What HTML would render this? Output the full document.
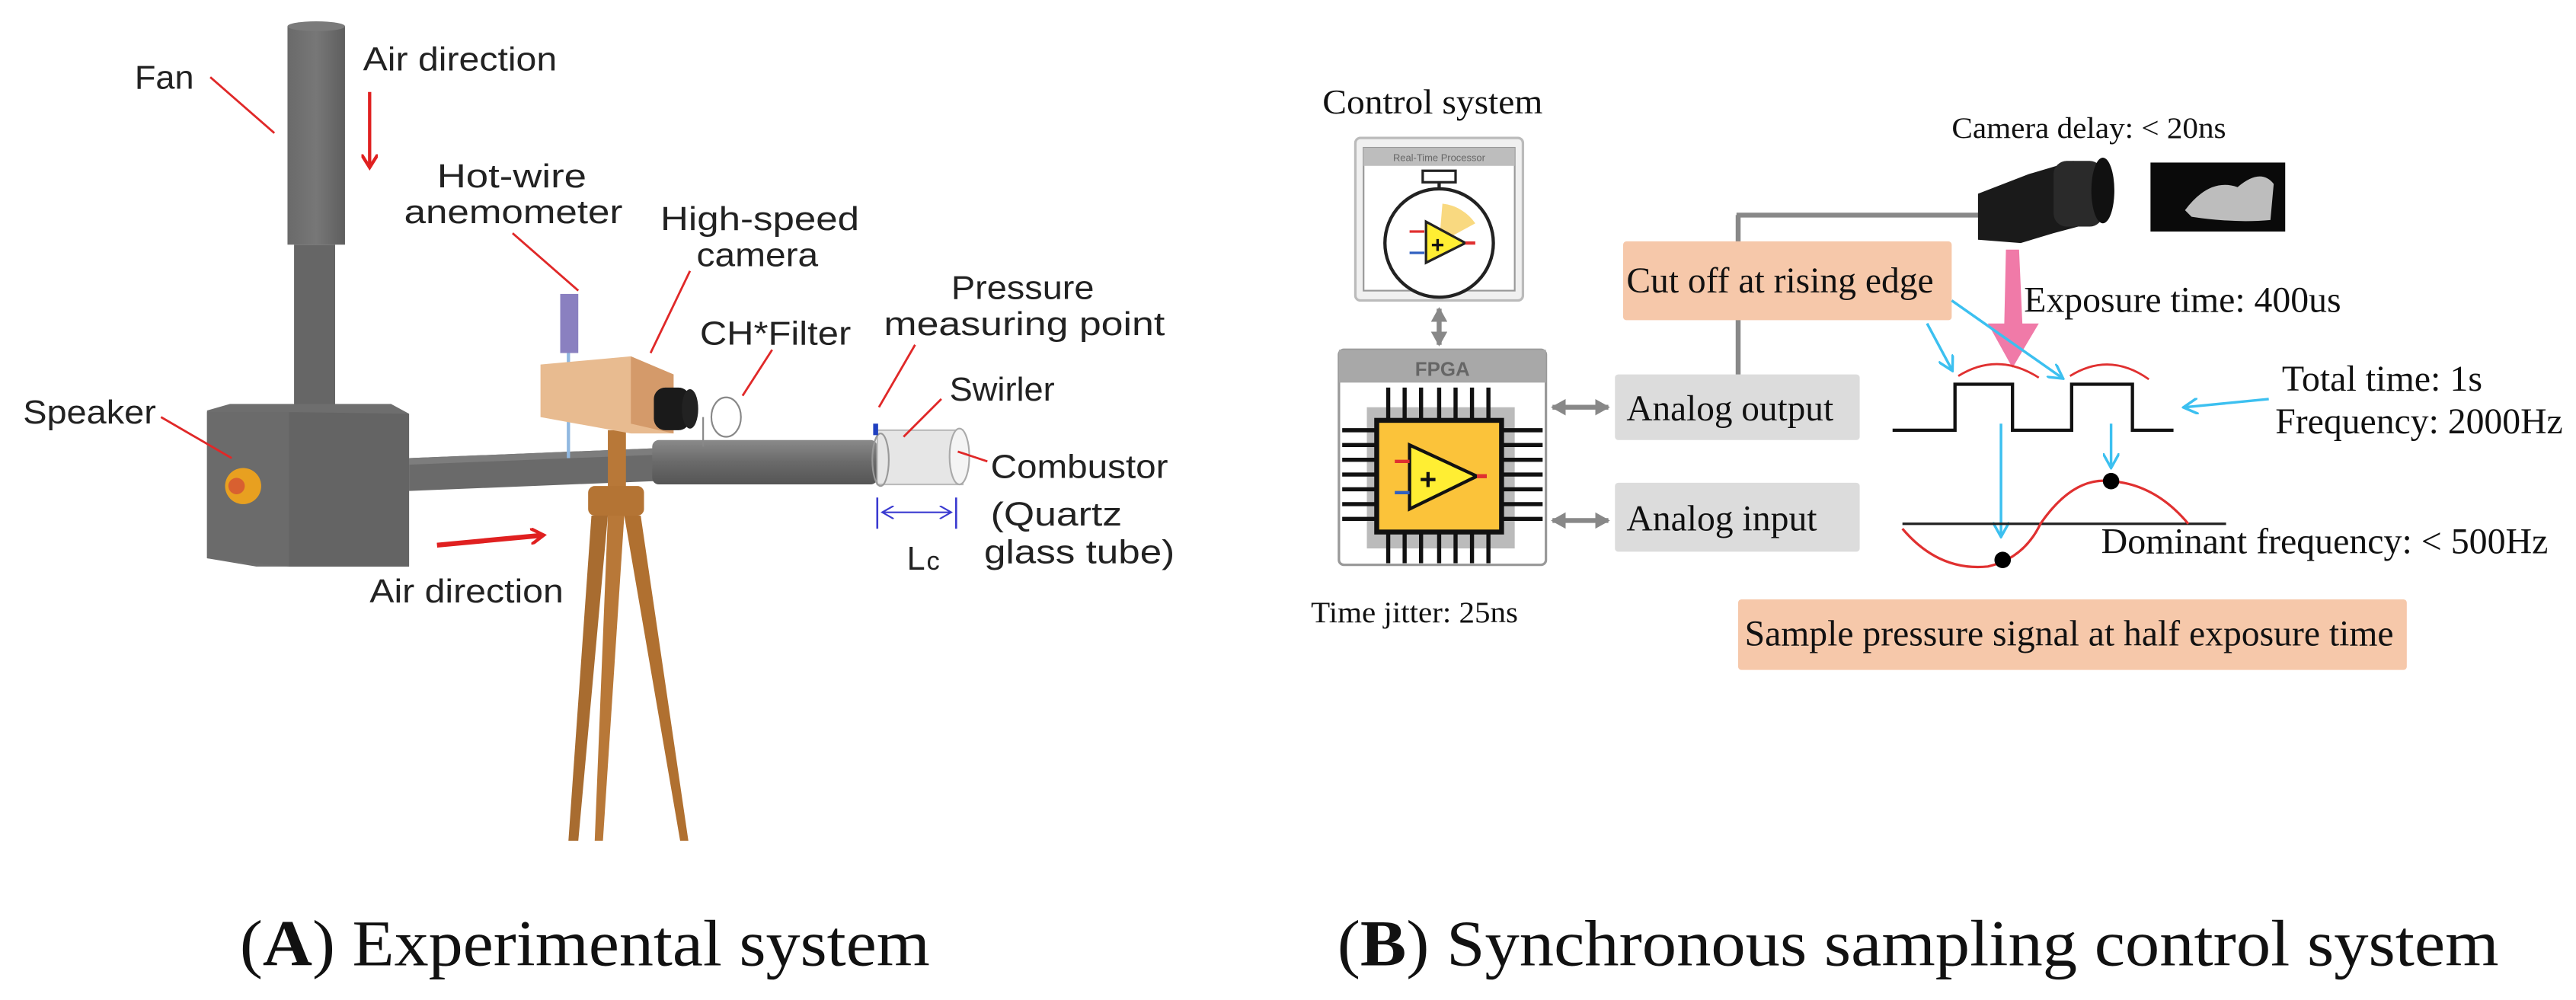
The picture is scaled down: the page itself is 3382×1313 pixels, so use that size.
<!DOCTYPE html>
<html><head><meta charset="utf-8"><style>
html,body{margin:0;padding:0;background:#fff;}
svg{display:block;}
.s{font-family:"Liberation Sans",sans-serif;fill:#222;}
.r{font-family:"Liberation Serif",serif;fill:#111;}
</style></head><body>
<svg width="3382" height="1313" viewBox="0 0 1568 609" preserveAspectRatio="none" xmlns="http://www.w3.org/2000/svg">
<defs>
<marker id="ra" markerWidth="10" markerHeight="10" refX="7" refY="5" orient="auto" markerUnits="userSpaceOnUse"><path d="M0,0 L8,5 L0,10" fill="none" stroke="#e02020" stroke-width="2"/></marker>
<marker id="ba" markerWidth="10" markerHeight="10" refX="8" refY="5" orient="auto" markerUnits="userSpaceOnUse"><path d="M0,0 L9,5 L0,10" fill="none" stroke="#3cc0f0" stroke-width="1.6"/></marker>
<marker id="ga" markerWidth="10" markerHeight="10" refX="8" refY="5" orient="auto-start-reverse" markerUnits="userSpaceOnUse"><path d="M0,0 L9,5 L0,10 z" fill="#888"/></marker>
<marker id="la" markerWidth="8" markerHeight="8" refX="7" refY="4" orient="auto-start-reverse" markerUnits="userSpaceOnUse"><path d="M0,0 L7,4 L0,8" fill="none" stroke="#3a3ad0" stroke-width="1"/></marker>
<linearGradient id="tube" x1="0" y1="0" x2="0" y2="1"><stop offset="0" stop-color="#8a8a8a"/><stop offset="0.5" stop-color="#6a6a6a"/><stop offset="1" stop-color="#555"/></linearGradient>
<linearGradient id="vt" x1="0" y1="0" x2="1" y2="0"><stop offset="0" stop-color="#6a6a6a"/><stop offset="0.5" stop-color="#777"/><stop offset="1" stop-color="#5e5e5e"/></linearGradient>
</defs>

<!-- LEFT PANEL -->
<rect x="175" y="16" width="35" height="133" fill="url(#vt)"/>
<ellipse cx="192.5" cy="16" rx="17.5" ry="3" fill="#7a7a7a"/>
<rect x="179" y="149" width="25" height="100" fill="#666"/>
<!-- box -->
<polygon points="126,250 140,246 238,246 249,252 249,345 156,345 126,340" fill="#6e6e6e"/>
<polygon points="126,251 176,251 176,345 126,340" fill="#6b6b6b"/>
<polygon points="176,251 249,252 249,345 176,345" fill="#646464"/>
<circle cx="148" cy="296" r="11" fill="#e8a020"/>
<circle cx="144" cy="296" r="5" fill="#d86030"/>
<!-- pipes -->
<polygon points="249,279 398,273 398,293 249,299" fill="#6a6a6a"/>
<polygon points="249,279 398,273 398,277 249,283" fill="#7d7d7d"/>
<rect x="397" y="268" width="137" height="27" rx="4" fill="url(#tube)"/>
<rect x="534" y="262" width="52" height="33" fill="#e6e6e6" stroke="#bbb" stroke-width="1"/>
<ellipse cx="584" cy="278" rx="6" ry="17" fill="#f4f4f4" stroke="#aaa"/>
<ellipse cx="536" cy="280" rx="5" ry="16" fill="none" stroke="#999"/>
<path d="M533 258 L533 265" stroke="#2040c0" stroke-width="3"/>
<!-- tripod -->
<rect x="370" y="262" width="11" height="35" fill="#b87838"/>
<rect x="358" y="296" width="34" height="18" rx="4" fill="#b47434"/>
<polygon points="360,314 370,314 352,512 346,512" fill="#a86c30"/>
<polygon points="370,314 380,314 367,512 362,512" fill="#b87838"/>
<polygon points="380,314 390,314 419,512 414,512" fill="#b07030"/>
<!-- anemometer -->
<rect x="341" y="179" width="11" height="36" fill="#8a80c0"/>
<line x1="346" y1="215" x2="346" y2="279" stroke="#90b8e0" stroke-width="2"/>
<!-- camera -->
<polygon points="329,222 384,217 410,228 410,264 384,264 329,254" fill="#e8bb90"/>
<polygon points="384,217 410,228 410,264 384,258" fill="#d49a6a"/>
<rect x="398" y="236" width="22" height="26" rx="7" fill="#1a1a1a"/>
<ellipse cx="420" cy="249" rx="5" ry="12" fill="#222"/>
<!-- filter -->
<ellipse cx="442" cy="254" rx="9" ry="12" fill="#fff" stroke="#888"/>
<line x1="428" y1="254" x2="428" y2="272" stroke="#888"/>
<!-- labels -->
<g class="s" font-size="20">
<text x="82" y="54" textLength="36" lengthAdjust="spacingAndGlyphs">Fan</text>
<text x="221" y="43" textLength="118" lengthAdjust="spacingAndGlyphs">Air direction</text>
<text x="266" y="114" textLength="91" lengthAdjust="spacingAndGlyphs">Hot-wire</text>
<text x="246" y="136" textLength="133" lengthAdjust="spacingAndGlyphs">anemometer</text>
<text x="402" y="140" textLength="121" lengthAdjust="spacingAndGlyphs">High-speed</text>
<text x="424" y="162" textLength="74" lengthAdjust="spacingAndGlyphs">camera</text>
<text x="426" y="210" textLength="92" lengthAdjust="spacingAndGlyphs">CH*Filter</text>
<text x="579" y="182" textLength="87" lengthAdjust="spacingAndGlyphs">Pressure</text>
<text x="538" y="204" textLength="171" lengthAdjust="spacingAndGlyphs">measuring point</text>
<text x="578" y="244" textLength="64" lengthAdjust="spacingAndGlyphs">Swirler</text>
<text x="603" y="291" textLength="108" lengthAdjust="spacingAndGlyphs">Combustor</text>
<text x="603" y="320" textLength="80" lengthAdjust="spacingAndGlyphs">(Quartz</text>
<text x="599" y="343" textLength="116" lengthAdjust="spacingAndGlyphs">glass tube)</text>
<text x="552" y="347">L</text><text x="564" y="347" font-size="16">c</text>
<text x="14" y="258" textLength="81" lengthAdjust="spacingAndGlyphs">Speaker</text>
<text x="225" y="367" textLength="118" lengthAdjust="spacingAndGlyphs">Air direction</text>
</g>
<g stroke="#e02828" stroke-width="1.3" fill="none">
<line x1="128" y1="47" x2="167" y2="81"/>
<line x1="98" y1="254" x2="141" y2="279"/>
<line x1="312" y1="142" x2="352" y2="177"/>
<line x1="420" y1="165" x2="396" y2="215"/>
<line x1="470" y1="213" x2="452" y2="241"/>
<line x1="557" y1="210" x2="535" y2="248"/>
<line x1="573" y1="243" x2="550" y2="266"/>
<line x1="601" y1="281" x2="583" y2="275"/>
</g>
<line x1="225" y1="56" x2="225" y2="101" stroke="#e02020" stroke-width="2" marker-end="url(#ra)"/>
<line x1="266" y1="332" x2="330" y2="326" stroke="#e02020" stroke-width="3" marker-end="url(#ra)"/>
<!-- Lc -->
<line x1="534" y1="303" x2="534" y2="322" stroke="#3a3ad0" stroke-width="1.2"/>
<line x1="582" y1="303" x2="582" y2="322" stroke="#3a3ad0" stroke-width="1.2"/>
<line x1="537" y1="312" x2="579" y2="312" stroke="#3a3ad0" stroke-width="1" marker-start="url(#la)" marker-end="url(#la)"/>
<text class="r" x="146" y="588" font-size="40" textLength="420" lengthAdjust="spacingAndGlyphs"><tspan>(</tspan><tspan font-weight="bold">A</tspan><tspan>) Experimental system</tspan></text>

<!-- RIGHT PANEL -->
<text class="r" x="805" y="69" font-size="21" textLength="134" lengthAdjust="spacingAndGlyphs">Control system</text>
<!-- RT processor -->
<rect x="825" y="84" width="102" height="99" rx="3" fill="#f0f0f0" stroke="#bbb" stroke-width="1.5"/>
<rect x="830" y="90" width="92" height="87" fill="#fff" stroke="#999"/>
<rect x="830" y="90" width="92" height="11" fill="#bdbdbd"/>
<text x="876" y="98" font-family="Liberation Sans,sans-serif" font-size="6" fill="#666" text-anchor="middle">Real-Time Processor</text>
<rect x="866" y="104" width="20" height="7" fill="#fff" stroke="#222" stroke-width="1.5"/>
<line x1="876" y1="111" x2="876" y2="117" stroke="#222" stroke-width="2"/>
<circle cx="876" cy="148" r="33" fill="#fff" stroke="#222" stroke-width="2"/>
<path d="M876 148 L878 124 A28 28 0 0 1 898 136 Z" fill="#f7cf60" opacity="0.8"/>
<polygon points="868,135 868,160 892,148" fill="#ffee33" stroke="#222" stroke-width="1.5"/>
<text x="871" y="154" font-family="Liberation Sans" font-weight="bold" font-size="14" fill="#111">+</text>
<line x1="858" y1="141" x2="867" y2="141" stroke="#e03030" stroke-width="1.5"/>
<line x1="858" y1="154" x2="867" y2="154" stroke="#3060c0" stroke-width="1.5"/>
<line x1="892" y1="148" x2="898" y2="148" stroke="#e03030" stroke-width="2"/>
<line x1="876" y1="188" x2="876" y2="210" stroke="#888" stroke-width="3" marker-start="url(#ga)" marker-end="url(#ga)"/>
<!-- FPGA -->
<rect x="815" y="213" width="126" height="131" rx="3" fill="#fff" stroke="#999" stroke-width="1.5"/>
<rect x="815" y="213" width="126" height="20" fill="#a8a8a8"/>
<text x="878" y="229" font-family="Liberation Sans,sans-serif" font-size="12" font-weight="bold" fill="#666" text-anchor="middle">FPGA</text>
<rect x="832" y="248" width="90" height="86" fill="#bbb"/>
<g stroke="#111" stroke-width="2.5">
<path d="M845 236V256M855 236V256M865 236V256M876 236V256M886 236V256M896 236V256M906 236V256"/>
<path d="M845 324V343M855 324V343M865 324V343M876 324V343M886 324V343M896 324V343M906 324V343"/>
<path d="M817 262H838M817 271H838M817 280H838M817 289H838M817 298H838M817 307H838M817 316H838"/>
<path d="M914 262H939M914 271H939M914 280H939M914 289H939M914 298H939M914 307H939M914 316H939"/>
</g>
<rect x="838" y="256" width="76" height="68" fill="#fbc33a" stroke="#111" stroke-width="3"/>
<polygon points="858,271 858,310 899,290" fill="#ffee33" stroke="#111" stroke-width="2"/>
<text x="864" y="298" font-family="Liberation Sans" font-weight="bold" font-size="18" fill="#111">+</text>
<line x1="849" y1="281" x2="858" y2="281" stroke="#e03030" stroke-width="2"/>
<line x1="849" y1="300" x2="858" y2="300" stroke="#3060c0" stroke-width="2"/>
<line x1="899" y1="290" x2="905" y2="290" stroke="#e03030" stroke-width="2.5"/>
<text class="r" x="798" y="379" font-size="18" textLength="126" lengthAdjust="spacingAndGlyphs">Time jitter: 25ns</text>
<line x1="945" y1="248" x2="979" y2="248" stroke="#888" stroke-width="3" marker-start="url(#ga)" marker-end="url(#ga)"/>
<line x1="945" y1="317" x2="979" y2="317" stroke="#888" stroke-width="3" marker-start="url(#ga)" marker-end="url(#ga)"/>
<rect x="983" y="228" width="149" height="40" rx="2" fill="#dcdcdc"/>
<text class="r" x="990" y="256" font-size="22" textLength="126" lengthAdjust="spacingAndGlyphs">Analog output</text>
<rect x="983" y="294" width="149" height="42" rx="2" fill="#dcdcdc"/>
<text class="r" x="990" y="323" font-size="22" textLength="116" lengthAdjust="spacingAndGlyphs">Analog input</text>
<line x1="1058" y1="228" x2="1058" y2="131" stroke="#888" stroke-width="3"/>
<line x1="1057" y1="131" x2="1205" y2="131" stroke="#888" stroke-width="3"/>
<rect x="988" y="147" width="200" height="48" rx="2" fill="#f6c8aa"/>
<text class="r" x="990" y="178" font-size="22" textLength="187" lengthAdjust="spacingAndGlyphs">Cut off at rising edge</text>
<!-- camera -->
<text class="r" x="1188" y="84" font-size="18" textLength="167" lengthAdjust="spacingAndGlyphs">Camera delay: &lt; 20ns</text>
<polygon points="1204,118 1235,106 1262,98 1280,104 1280,134 1250,142 1230,148 1204,146" fill="#1a1a1a"/>
<rect x="1250" y="98" width="30" height="40" rx="8" fill="#2a2a2a"/>
<ellipse cx="1280" cy="116" rx="7" ry="20" fill="#111"/>
<rect x="1309" y="99" width="82" height="42" fill="#0a0a0a"/>
<path d="M1330 128 Q1345 108 1362 114 Q1376 102 1384 112 L1382 134 Q1360 136 1334 132 Z" fill="#ddd" opacity="0.85"/>
<!-- pink arrow -->
<polygon points="1221,152 1229,152 1231,197 1241,197 1225,224 1210,197 1220,197" fill="#f07aa8"/>
<text class="r" x="1232" y="190" font-size="22" textLength="193" lengthAdjust="spacingAndGlyphs">Exposure time: 400us</text>
<path d="M1192 229 Q1216 214 1241 230" fill="none" stroke="#e03030" stroke-width="1.3"/>
<path d="M1260 229 Q1284 214 1308 231" fill="none" stroke="#e03030" stroke-width="1.3"/>
<polyline points="1152,262 1190,262 1190,234 1225,234 1225,262 1261,262 1261,234 1298,234 1298,262 1323,262" fill="none" stroke="#111" stroke-width="2"/>
<g stroke="#3cc0f0" stroke-width="1.6" fill="none">
<line x1="1173" y1="197" x2="1188" y2="225" marker-end="url(#ba)"/>
<line x1="1188" y1="183" x2="1255" y2="230" marker-end="url(#ba)"/>
<line x1="1218" y1="258" x2="1218" y2="326" marker-end="url(#ba)"/>
<line x1="1285" y1="258" x2="1285" y2="284" marker-end="url(#ba)"/>
<line x1="1381" y1="243" x2="1330" y2="248" marker-end="url(#ba)"/>
</g>
<line x1="1158" y1="319" x2="1355" y2="319" stroke="#222" stroke-width="1.5"/>
<path d="M1158 322 Q1180 348 1210 345 Q1232 340 1242 319 Q1262 290 1285 293 Q1312 295 1332 319" fill="none" stroke="#e03030" stroke-width="1.5"/>
<circle cx="1219" cy="341" r="5" fill="#000"/>
<circle cx="1285" cy="293" r="5" fill="#000"/>
<text class="r" x="1389" y="238" font-size="22" textLength="122" lengthAdjust="spacingAndGlyphs">Total time: 1s</text>
<text class="r" x="1385" y="264" font-size="22" textLength="175" lengthAdjust="spacingAndGlyphs">Frequency: 2000Hz</text>
<text class="r" x="1279" y="337" font-size="22" textLength="272" lengthAdjust="spacingAndGlyphs">Dominant frequency: &lt; 500Hz</text>
<rect x="1058" y="365" width="407" height="43" rx="2" fill="#f6c8aa"/>
<text class="r" x="1062" y="393" font-size="22" textLength="395" lengthAdjust="spacingAndGlyphs">Sample pressure signal at half exposure time</text>
<text class="r" x="814" y="588" font-size="40" textLength="707" lengthAdjust="spacingAndGlyphs"><tspan>(</tspan><tspan font-weight="bold">B</tspan><tspan>) Synchronous sampling control system</tspan></text>
</svg>
</body></html>
